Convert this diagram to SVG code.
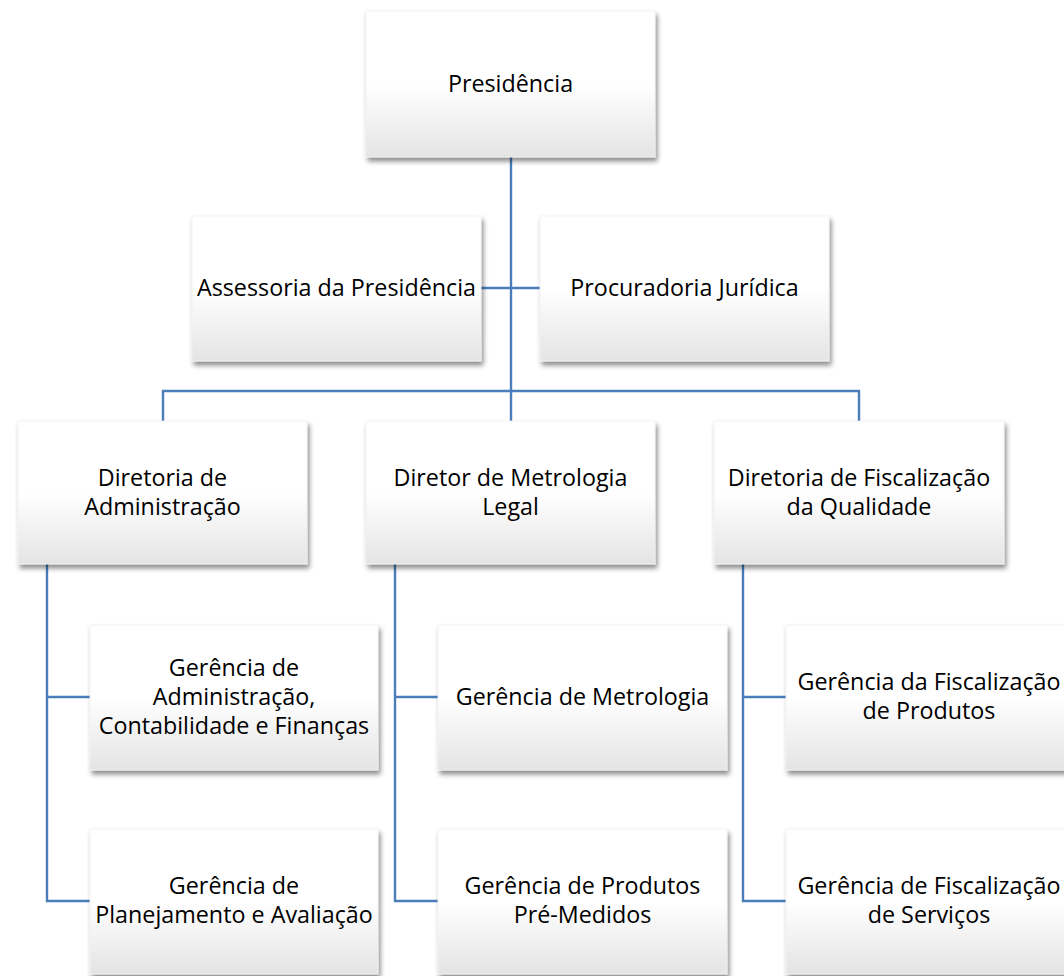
<svg xmlns="http://www.w3.org/2000/svg" width="1064" height="976" viewBox="0 0 1064 976">
<defs>
<linearGradient id="g" x1="0" y1="0" x2="0" y2="1">
<stop offset="0" stop-color="#ffffff"/>
<stop offset="0.5" stop-color="#ffffff"/>
<stop offset="1" stop-color="#e4e4e4"/>
</linearGradient>
<filter id="sh" x="-10%" y="-10%" width="125%" height="130%">
<feDropShadow dx="2" dy="4" stdDeviation="2.5" flood-color="#000" flood-opacity="0.45"/>
</filter>
</defs>
<style>
.box{fill:url(#g);stroke:#f0f0f0;stroke-width:0.8;filter:url(#sh)}
.t{font-family:"Open Sans","Liberation Sans",sans-serif;font-size:23.3px;fill:#000;text-anchor:middle}
.c{fill:none;stroke:#4a7ebb;stroke-width:2.4}
</style>
<rect width="1064" height="976" fill="#fff"/>
<g id="connectors">
<path class="c" d="M511,157 V391"/>
<path class="c" d="M481,288 H540"/>
<path class="c" d="M163,421 V391 H859 V421"/>
<path class="c" d="M511,391 V421"/>
<path class="c" d="M47,564 V901 H90 M47,697 H90"/>
<path class="c" d="M395,564 V901 H438 M395,697 H438"/>
<path class="c" d="M743,564 V901 H786 M743,697 H786"/>
</g>
<g id="presidencia"><rect class="box" x="366" y="11" width="289" height="146"/><text class="t" x="510.5" y="92">Presidência</text></g>
<g id="assessoria"><rect class="box" x="192" y="216" width="289" height="145"/><text class="t" x="336.5" y="296">Assessoria da Presidência</text></g>
<g id="procuradoria"><rect class="box" x="540" y="216" width="289" height="145"/><text class="t" x="684.5" y="296">Procuradoria Jurídica</text></g>
<g id="dir-adm"><rect class="box" x="18" y="421" width="289" height="143"/><text class="t" x="162.5" y="486">Diretoria de</text><text class="t" x="162.5" y="515">Administração</text></g>
<g id="dir-metro"><rect class="box" x="366" y="421" width="289" height="143"/><text class="t" x="510.5" y="486">Diretor de Metrologia</text><text class="t" x="510.5" y="515">Legal</text></g>
<g id="dir-fisc"><rect class="box" x="714" y="421" width="290" height="143"/><text class="t" x="859" y="486">Diretoria de Fiscalização</text><text class="t" x="859" y="515">da Qualidade</text></g>
<g id="ger-adm"><rect class="box" x="90" y="625" width="288" height="145"/><text class="t" x="234" y="676">Gerência de</text><text class="t" x="234" y="705">Administração,</text><text class="t" x="234" y="734">Contabilidade e Finanças</text></g>
<g id="ger-plan"><rect class="box" x="90" y="829" width="288" height="145"/><text class="t" x="234" y="894">Gerência de</text><text class="t" x="234" y="923">Planejamento e Avaliação</text></g>
<g id="ger-metro"><rect class="box" x="438" y="625" width="289" height="145"/><text class="t" x="582.5" y="705">Gerência de Metrologia</text></g>
<g id="ger-prod"><rect class="box" x="438" y="829" width="289" height="145"/><text class="t" x="582.5" y="894">Gerência de Produtos</text><text class="t" x="582.5" y="923">Pré-Medidos</text></g>
<g id="ger-fisc-prod"><rect class="box" x="786" y="625" width="286" height="145"/><text class="t" x="929" y="690">Gerência da Fiscalização</text><text class="t" x="929" y="719">de Produtos</text></g>
<g id="ger-fisc-serv"><rect class="box" x="786" y="829" width="286" height="145"/><text class="t" x="929" y="894">Gerência de Fiscalização</text><text class="t" x="929" y="923">de Serviços</text></g>
</svg>
